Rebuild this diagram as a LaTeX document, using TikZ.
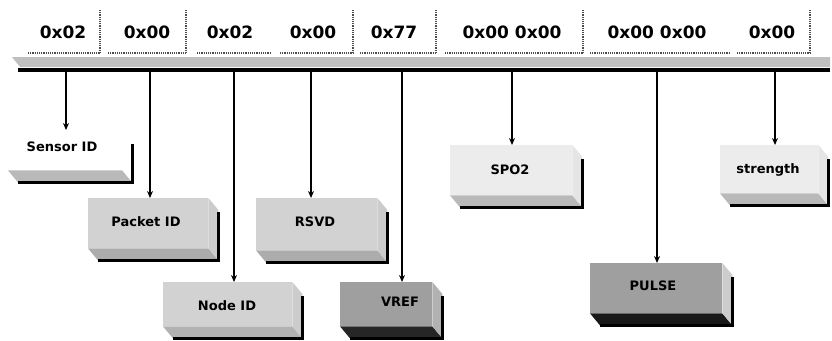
\documentclass[tikz,border=0pt]{standalone}
\usepackage{fontspec}
\setmainfont{DejaVu Sans}
\newfontfamily\heavyfont{DejaVu Sans Bold}
\usetikzlibrary{arrows.meta}
\begin{document}
\begin{tikzpicture}[x=1pt,y=-1pt,
  hex/.style={font=\fontsize{17}{20}\selectfont\heavyfont, inner sep=0pt},
  lbl/.style={font=\fontsize{13}{16}\selectfont\heavyfont, inner sep=0pt},
  blk/.style={anchor=north west, inner sep=0pt},
  divider/.style={densely dotted, line width=1.2pt, black!70},
  conn/.style={line width=2pt, -{Stealth[length=7pt,width=6pt]}}]
\useasboundingbox (0,0) rectangle (832,340);

% ---- top bar ----
\foreach \x in {100,186,353,436,583,810} \draw[divider] (\x,10) -- (\x,53);
\foreach \a/\b in {28/100,108/186,197/270,280/353,360/436,445/583,590/730,737/810}
  \draw[divider] (\a,53) -- (\b,53);
\coordinate (bandL) at (12,57);
\coordinate (bandR) at (830,57);
\fill[gray!50] (bandL) -- (bandR) -- (830,67) -- (20,67) -- cycle;
\coordinate (lineL) at (18,70);
\coordinate (lineR) at (830,70);
\draw[line width=3.5pt] (lineL) -- (lineR);

\node[hex] (h1) at (63,32) {0x02};
\node[hex] (h2) at (147,32) {0x00};
\node[hex] (h3) at (230,32) {0x02};
\node[hex] (h4) at (313,32) {0x00};
\node[hex] (h5) at (394,32) {0x77};
\node[hex] (h6) at (512,32) {0x00 0x00};
\node[hex] (h7) at (657,32) {0x00 0x00};
\node[hex] (h8) at (772,32) {0x00};

% ---- boxes (front faces) ----
\node[blk, fill=white,   minimum width=114pt, minimum height=40pt] (sid) at (8,130) {};
\node[blk, fill=gray!35, minimum width=120pt, minimum height=50pt] (pid) at (88,198) {};
\node[blk, fill=gray!35, minimum width=129pt, minimum height=44pt] (nid) at (163,282) {};
\node[blk, fill=gray!35, minimum width=121pt, minimum height=52pt] (rsvd) at (256,198) {};
\node[blk, fill=gray!75, minimum width=92pt,  minimum height=44pt] (vref) at (340,282) {};
\node[blk, fill=gray!15, minimum width=122pt, minimum height=50pt] (spo) at (450,145) {};
\node[blk, fill=gray!75, minimum width=132pt, minimum height=50pt] (pulse) at (590,263) {};
\node[blk, fill=gray!15, minimum width=98pt,  minimum height=48pt] (str) at (720,145) {};

% ---- 3D faces ----
\foreach \n/\bc/\sc in {sid/gray!55/white, pid/gray!65/gray!40, nid/gray!60/gray!40,
  rsvd/gray!65/gray!40, vref/black!85/gray!60, spo/gray!55/gray!20,
  pulse/black!90/gray!40, str/gray!55/gray!20}{
  \fill[\bc] (\n.south west) -- (\n.south east) -- ([shift={(10,12)}]\n.south east)
     -- ([shift={(10,12)}]\n.south west) -- cycle;
  \fill[\sc] (\n.north east) -- ([shift={(10,12)}]\n.north east)
     -- ([shift={(10,12)}]\n.south east) -- (\n.south east) -- cycle;
  \draw[line width=2.5pt] ([shift={(10,14)}]\n.north east) -- ([shift={(10,12)}]\n.south east)
     -- ([shift={(10,12)}]\n.south west);
}

% ---- labels ----
\node[lbl] (tsid) at (62,147) {Sensor ID};
\node[lbl] (tpid) at (146,222) {Packet ID};
\node[lbl] (tnid) at (227,306) {Node ID};
\node[lbl] (trsvd) at (315,222) {RSVD};
\node[lbl] (tvref) at (400,302) {VREF};
\node[lbl] (tspo) at (510,170) {SPO2};
\node[lbl] (tpulse) at (653,286) {PULSE};
\node[lbl] (tstr) at (768,170) {strength};

% ---- connectors ----
\foreach \x/\n in {66/sid,150/pid,234/nid,311/rsvd,402/vref,512/spo,657/pulse,775/str}{
  \coordinate (b\n) at (\x,72);
  \draw[conn] (b\n) -- (b\n |- \n.north);
}
\end{tikzpicture}
\end{document}
